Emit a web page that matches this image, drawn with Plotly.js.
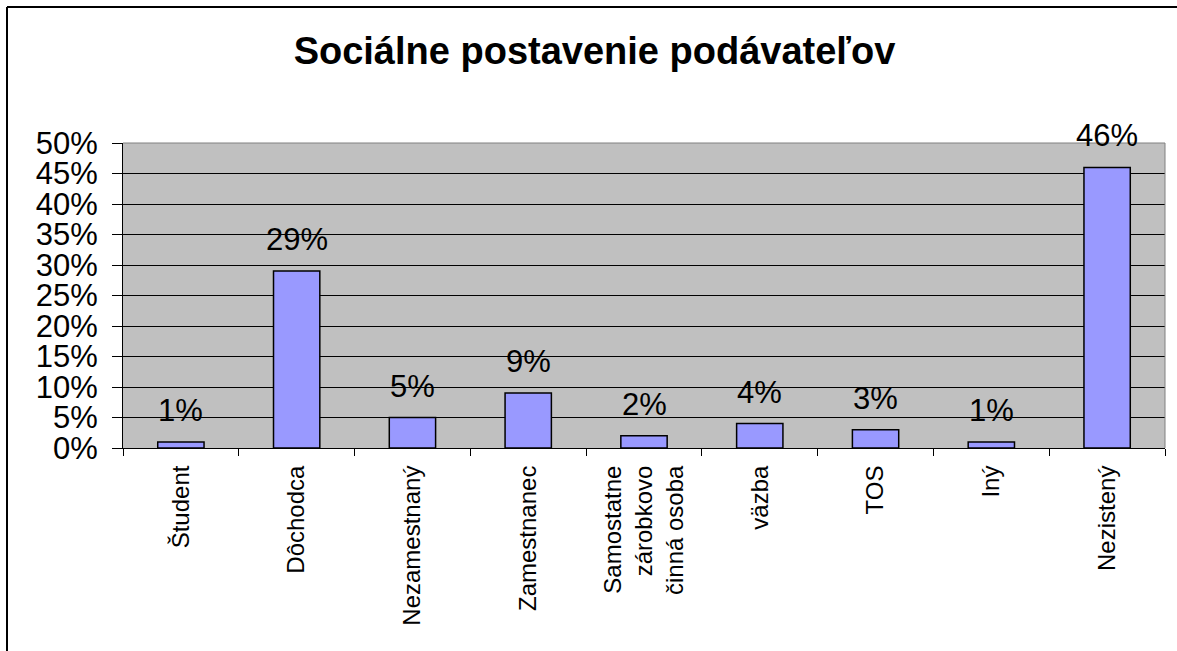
<!DOCTYPE html>
<html>
<head>
<meta charset="utf-8">
<script src="https://cdn.plot.ly/plotly-3.0.1.min.js"></script>
<style>
html,body{margin:0;padding:0;background:#fff;}
#chart{width:1177px;height:651px;}
</style>
</head>
<body>
<div id="chart"></div>
<script>
const categories = ["Študent", "Dôchodca", "Nezamestnaný", "Zamestnanec", "Samostatne<br>zárobkovo<br>činná osoba", "väzba", "TOS", "Iný", "Nezistený"];
const shares = [0.01, 0.29, 0.05, 0.09, 0.02, 0.04, 0.03, 0.01, 0.46];
const valueLabels = ["1%", "29%", "5%", "9%", "2%", "4%", "3%", "1%", "46%"];
const chartTitle = "Sociálne postavenie podávateľov";

const W = 1177, H = 651;
const M = {l: 123, r: 12, t: 143, b: 203};
const pw = W - M.l - M.r, ph = H - M.t - M.b;
const px = x => (x - M.l) / pw;
const py = y => (H - M.b - y) / ph;

const font = "Liberation Sans, Arial, sans-serif";

const trace = {
  type: "bar",
  x: categories,
  y: shares,
  marker: {color: "#9999FF", line: {color: "#000000", width: 1.5}},
  hoverinfo: "none"
};

const annotations = categories.map((c, i) => ({
  x: c, y: shares[i], xref: "x", yref: "y",
  text: valueLabels[i], showarrow: false,
  yanchor: "bottom", yshift: 12,
  font: {family: font, size: 31, color: "#000"}
}));

const shapes = [
  // gray top & right border of plot area
  {type: "line", xref: "paper", yref: "paper", x0: 0, x1: 1, y0: 1, y1: 1, line: {color: "#808080", width: 1}},
  {type: "line", xref: "paper", yref: "paper", x0: 1, x1: 1, y0: 0, y1: 1, line: {color: "#808080", width: 1}},
  // outer chart frame (left and top)
  {type: "line", xref: "paper", yref: "paper", x0: px(7), x1: px(7), y0: py(7), y1: py(H + 5), line: {color: "#000", width: 2}},
  {type: "line", xref: "paper", yref: "paper", x0: px(7), x1: px(W + 5), y0: py(7), y1: py(7), line: {color: "#000", width: 2}}
];

const layout = {
  width: W, height: H,
  margin: M,
  paper_bgcolor: "#ffffff",
  plot_bgcolor: "#C0C0C0",
  showlegend: false,
  bargap: 0.6,
  title: {
    text: "<b>" + chartTitle + "</b>",
    font: {family: font, size: 38, color: "#000"},
    x: 594.5 / W, xanchor: "center",
    y: (H - 51) / H, yanchor: "middle", yref: "container"
  },
  xaxis: {
    type: "category",
    tickson: "boundaries",
    ticks: "outside", ticklen: 7, tickcolor: "#000", tickwidth: 1,
    showline: true, linecolor: "#000", linewidth: 1,
    showgrid: false,
    tickangle: -90,
    ticklabelstandoff: 7,
    tickfont: {family: font, size: 24, color: "#000"},
    fixedrange: true
  },
  yaxis: {
    range: [0, 0.5],
    dtick: 0.05,
    tickformat: ".0%",
    ticks: "outside", ticklen: 10, tickcolor: "#000", tickwidth: 1,
    showline: true, linecolor: "#000", linewidth: 1,
    showgrid: true, gridcolor: "#000", gridwidth: 1,
    zeroline: false,
    tickfont: {family: font, size: 31, color: "#000"},
    ticklabelstandoff: 8,
    fixedrange: true
  },
  annotations: annotations,
  shapes: shapes
};

Plotly.newPlot("chart", [trace], layout, {staticPlot: true, displayModeBar: false});
</script>
</body>
</html>
